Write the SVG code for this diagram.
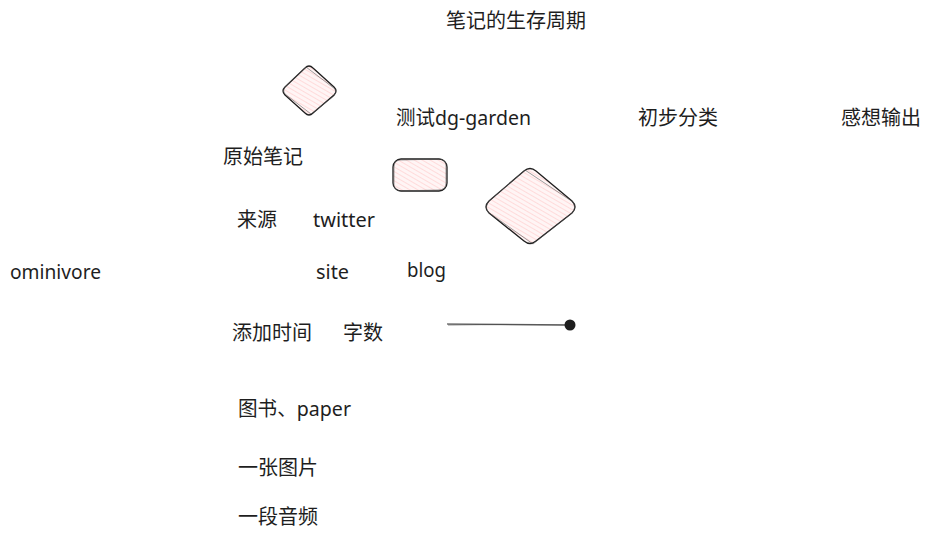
<svg xmlns="http://www.w3.org/2000/svg" width="930" height="538" viewBox="0 0 930 538">
<defs>
<pattern id="hatch" patternUnits="userSpaceOnUse" width="4" height="4" patternTransform="rotate(-60)">
<rect width="4" height="4" fill="#fff5f5"/>
<line x1="0" y1="0" x2="0" y2="4" stroke="#ffd0d0" stroke-width="1.4"/>
</pattern>
</defs>
<style>
text{font-family:"Noto Sans","Noto Sans CJK SC",sans-serif;font-size:20px;fill:#1e1e1e}
.shape{fill:url(#hatch);stroke:#1e1e1e;stroke-width:1.3;stroke-linejoin:round}
.shape2{fill:none;stroke:#555;stroke-width:0.8;opacity:0.7}
</style>
<g id="title"><text x="446" y="28">笔记的生存周期</text></g>
<g id="diamond-small">
<path class="shape" d="M305,68 Q309,64 313,68 L334,87 Q338,91 334,95 L313,113 Q309,117 305,113 L285,95 Q281,91 285,87 Z"/>
<path class="shape2" d="M306,67 L335,89 Q337,92 334,96 L311,114 L285,94 Q282,90 286,86 Z"/>
</g>
<g id="t-test"><text x="396" y="125" textLength="135" lengthAdjust="spacingAndGlyphs">测试dg-garden</text></g>
<g id="t-class"><text x="638" y="125">初步分类</text></g>
<g id="t-output"><text x="841" y="125">感想输出</text></g>
<g id="t-raw"><text x="223" y="164">原始笔记</text></g>
<g id="rect">
<rect class="shape" x="393" y="159" width="54" height="32" rx="8"/>
<path class="shape2" d="M401,160 L440,159 Q447,160 446,168 L446,183 Q446,190 438,190 L400,191 Q393,190 394,182 L394,167 Q394,160 401,160"/>
</g>
<g id="diamond-large">
<path class="shape" d="M524,171 Q530,166 536,171 L572,201 Q578,207 572,213 L536,241 Q530,246 524,241 L489,213 Q483,207 489,201 Z"/>
<path class="shape2" d="M525,170 L573,202 Q577,208 571,214 L533,244 L488,212 Q484,206 490,200 Z"/>
</g>
<g id="t-source"><text x="237" y="227">来源</text></g>
<g id="t-twitter"><text x="313" y="227" textLength="62" lengthAdjust="spacingAndGlyphs">twitter</text></g>
<g id="t-omnivore"><text x="10" y="279" textLength="91" lengthAdjust="spacingAndGlyphs">ominivore</text></g>
<g id="t-site"><text x="316" y="279" textLength="33" lengthAdjust="spacingAndGlyphs">site</text></g>
<g id="t-blog"><text x="407" y="277" textLength="39" lengthAdjust="spacingAndGlyphs">blog</text></g>
<g id="t-time"><text x="232" y="340">添加时间</text></g>
<g id="t-count"><text x="343" y="340">字数</text></g>
<g id="connectors">
<path d="M447,324 L570,325" stroke="#777" stroke-width="1.6" fill="none"/>
<path d="M448,325 L500,324.5 L565,325" stroke="#333" stroke-width="0.8" fill="none" opacity="0.7"/>
<circle cx="570" cy="325" r="5.5" fill="#1e1e1e"/>
</g>
<g id="t-book"><text x="238" y="416" textLength="113" lengthAdjust="spacingAndGlyphs">图书、paper</text></g>
<g id="t-image"><text x="238" y="475">一张图片</text></g>
<g id="t-audio"><text x="238" y="524">一段音频</text></g>
</svg>
